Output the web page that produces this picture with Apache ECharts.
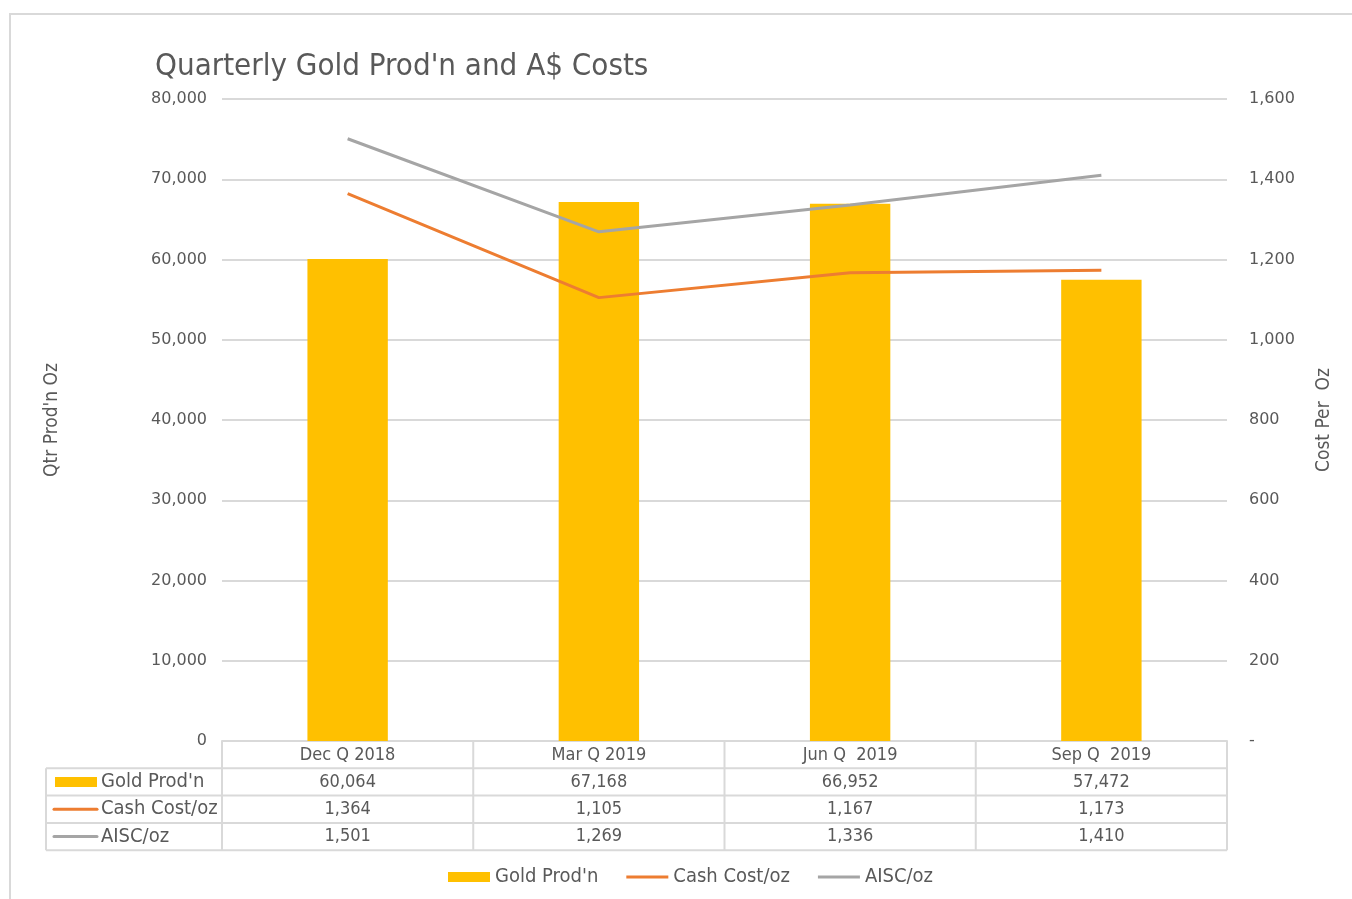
<!DOCTYPE html>
<html>
<head>
<meta charset="utf-8">
<script src="https://cdn.jsdelivr.net/npm/echarts@6/dist/echarts.min.js"></script>
<style>
  html, body { margin: 0; padding: 0; background: #fff; }
  #main { width: 1352px; height: 899px; }
</style>
</head>
<body>
<div id="main"></div>
<script>
// chart data
var quarters = ['Dec Q 2018', 'Mar Q 2019', 'Jun Q  2019', 'Sep Q  2019'];
var goldProd = [60064, 67168, 66952, 57472];
var cashCost = [1364, 1105, 1167, 1173];
var aiscCost = [1501, 1269, 1336, 1410];
var seriesNames = ["Gold Prod'n", 'Cash Cost/oz', 'AISC/oz'];
var colors = ['#FFC000', '#ED7D31', '#A5A5A5'];

var narrow = "'Liberation Sans Narrow', 'DejaVu Sans Condensed', 'Roboto', sans-serif";
var wide = "'DejaVu Sans', sans-serif";
var textColor = '#595959';
var gridColor = '#D9D9D9';
// thin bar used as legend key for the line series
var lineIcon = 'path://M0,0L42,0L42,3L0,3Z';

var myChart = echarts.init(document.getElementById('main'));

function fmt(v) {
    return v.toLocaleString('en-US');
}

var option = {
    animation: false,
    title: {
        text: "Quarterly Gold Prod'n and A$ Costs",
        left: 150,
        top: 46,
        textStyle: { fontFamily: narrow, fontSize: 31, fontWeight: 'normal', color: textColor }
    },
    legend: {
        bottom: 7,
        left: 443,
        itemWidth: 42,
        itemHeight: 10,
        itemGap: 28,
        symbolKeepAspect: true,
        textStyle: { fontFamily: narrow, fontSize: 20, color: textColor },
        data: [
            { name: seriesNames[0], icon: 'rect' },
            { name: seriesNames[1], icon: lineIcon, itemStyle: { color: colors[1] } },
            { name: seriesNames[2], icon: lineIcon, itemStyle: { color: colors[2] } }
        ]
    },
    grid: { left: 222, right: 125, top: 99, bottom: 158 },
    xAxis: {
        type: 'category',
        data: quarters,
        axisLine: { lineStyle: { color: gridColor, width: 2 } },
        axisTick: { show: false },
        axisLabel: { fontFamily: narrow, fontSize: 18, color: textColor, margin: 5 }
    },
    yAxis: [
        {
            type: 'value',
            name: "Qtr Prod'n Oz",
            nameLocation: 'middle',
            nameGap: 160,
            nameTextStyle: { fontFamily: narrow, fontSize: 19, color: textColor },
            min: 0, max: 80000, interval: 10000,
            axisLabel: { fontFamily: wide, fontSize: 16, color: textColor, margin: 15, formatter: function (v) { return fmt(v); } },
            splitLine: { lineStyle: { color: gridColor, width: 2 } },
            axisLine: { show: false }
        },
        {
            type: 'value',
            name: 'Cost Per  Oz',
            nameLocation: 'middle',
            nameGap: 88,
            nameTextStyle: { fontFamily: narrow, fontSize: 19, color: textColor },
            min: 0, max: 1600, interval: 200,
            axisLabel: { fontFamily: wide, fontSize: 16, color: textColor, margin: 22, formatter: function (v) { return v === 0 ? '-' : fmt(v); } },
            splitLine: { show: false },
            axisLine: { show: false }
        }
    ],
    series: [
        {
            name: seriesNames[0],
            type: 'bar',
            data: goldProd,
            barWidth: '32%',
            itemStyle: { color: colors[0] }
        },
        {
            name: seriesNames[1],
            type: 'line',
            yAxisIndex: 1,
            data: cashCost,
            showSymbol: false,
            symbol: 'none',
            lineStyle: { color: colors[1], width: 3 },
            itemStyle: { color: colors[1] }
        },
        {
            name: seriesNames[2],
            type: 'line',
            yAxisIndex: 1,
            data: aiscCost,
            showSymbol: false,
            symbol: 'none',
            lineStyle: { color: colors[2], width: 3 },
            itemStyle: { color: colors[2] }
        }
    ]
};
myChart.setOption(option);

// data table under the axis, built from the same arrays
function buildTable() {
    var g = [];
    var left = 222, right = 1227, top = 741, rowH = 27.3, labelLeft = 46;
    var band = (right - left) / quarters.length;
    var bottomY = top + rowH * 4;
    var line = function (x1, y1, x2, y2) {
        g.push({ type: 'line', shape: { x1: x1, y1: y1, x2: x2, y2: y2 }, style: { stroke: gridColor, lineWidth: 2 }, silent: true });
    };
    // frame
    g.push({ type: 'rect', shape: { x: 10, y: 14, width: 1400, height: 950 }, style: { fill: null, stroke: gridColor, lineWidth: 2 }, silent: true, z: -1 });
    // horizontal lines
    for (var r = 1; r <= 4; r++) line(labelLeft, top + rowH * r, right, top + rowH * r);
    // vertical lines
    line(labelLeft, top + rowH, labelLeft, bottomY);
    for (var c = 0; c <= quarters.length; c++) line(left + band * c, top, left + band * c, bottomY);
    // row labels with keys
    var rows = [goldProd, cashCost, aiscCost];
    rows.forEach(function (vals, i) {
        var cy = top + rowH * (i + 1.5);
        if (i === 0) {
            g.push({ type: 'rect', shape: { x: 55, y: cy - 5, width: 42, height: 10 }, style: { fill: colors[0] }, silent: true });
        } else {
            g.push({ type: 'line', shape: { x1: 54, y1: cy, x2: 97, y2: cy }, style: { stroke: colors[i], lineWidth: 3, lineCap: 'round' }, silent: true });
        }
        g.push({ type: 'text', x: 101, y: cy, style: { text: seriesNames[i], font: '20px ' + narrow, fill: textColor, verticalAlign: 'middle' }, silent: true });
        vals.forEach(function (v, j) {
            var cx = myChart.convertToPixel({ xAxisIndex: 0 }, j);
            g.push({ type: 'text', x: cx, y: cy, style: { text: fmt(v), font: '18px ' + narrow, fill: textColor, align: 'center', verticalAlign: 'middle' }, silent: true });
        });
    });
    myChart.setOption({ graphic: g });
}
buildTable();
</script>
</body>
</html>
